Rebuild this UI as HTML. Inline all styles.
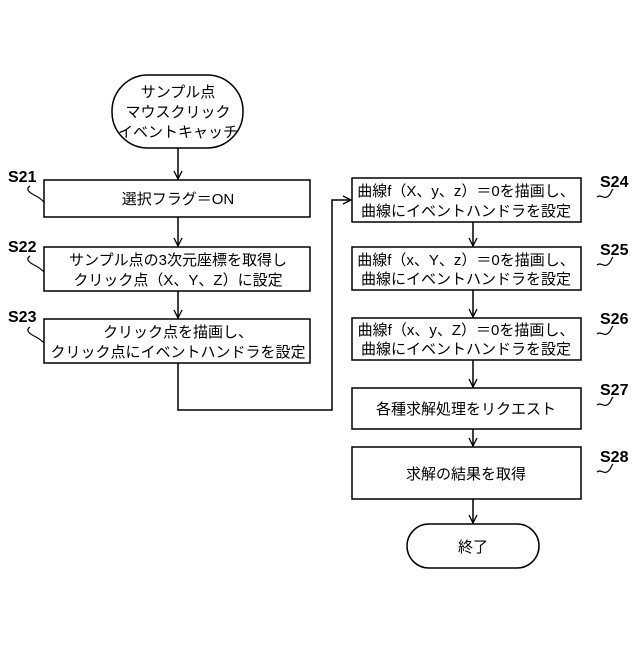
<!DOCTYPE html>
<html><head><meta charset="utf-8"><style>
body{margin:0;background:#fff}
svg text{font-family:"Liberation Sans","Noto Sans CJK JP",sans-serif;font-size:15px;fill:#000}
</style></head><body>
<svg width="640" height="640" viewBox="0 0 640 640" xmlns="http://www.w3.org/2000/svg">
<defs><marker id="a" markerWidth="10" markerHeight="10" refX="9" refY="5" orient="auto" markerUnits="userSpaceOnUse"><path d="M1,1 L9,5 L1,9" fill="none" stroke="#000" stroke-width="1.3"/></marker></defs>
<g fill="none" stroke="#000" stroke-width="1.5">
<rect x="112" y="75" width="131" height="73" rx="36"/>
<rect x="44" y="180" width="266" height="37"/>
<rect x="44" y="247" width="266" height="44"/>
<rect x="44" y="319" width="266" height="44"/>
<rect x="352" y="178" width="229" height="44"/>
<rect x="352" y="247" width="229" height="43"/>
<rect x="352" y="318" width="229" height="42"/>
<rect x="352" y="388" width="229" height="41"/>
<rect x="352" y="447" width="229" height="52"/>
<rect x="407" y="524" width="132" height="44" rx="22"/>
<path d="M178,148V179" marker-end="url(#a)"/>
<path d="M178,217V246" marker-end="url(#a)"/>
<path d="M178,291V318" marker-end="url(#a)"/>
<path d="M178,363V410H332V200H351" marker-end="url(#a)"/>
<path d="M473,222V246" marker-end="url(#a)"/>
<path d="M473,290V317" marker-end="url(#a)"/>
<path d="M473,360V387" marker-end="url(#a)"/>
<path d="M473,429V446" marker-end="url(#a)"/>
<path d="M473,499V523" marker-end="url(#a)"/>
<path d="M30,186c-6,4 2,8 6,10s6,4 8,6" stroke-width="1.2"/>
<path d="M30,256c-6,4 2,8 6,10s6,4 8,6" stroke-width="1.2"/>
<path d="M30,327c-6,4 2,8 6,10s6,4 8,6" stroke-width="1.2"/>
<path d="M597,197c4,-3 6,2 10,0s4,-6 6,-8" stroke-width="1.2"/>
<path d="M597,265c4,-3 6,2 10,0s4,-6 6,-8" stroke-width="1.2"/>
<path d="M597,334c4,-3 6,2 10,0s4,-6 6,-8" stroke-width="1.2"/>
<path d="M597,405c4,-3 6,2 10,0s4,-6 6,-8" stroke-width="1.2"/>
<path d="M597,472c4,-3 6,2 10,0s4,-6 6,-8" stroke-width="1.2"/>
</g>
<g text-anchor="middle">
<text x="178" y="97">サンプル点</text>
<text x="178" y="117">マウスクリック</text>
<text x="178" y="137">イベントキャッチ</text>
<text x="178" y="204">選択フラグ＝ON</text>
<text x="178" y="265">サンプル点の3次元座標を取得し</text>
<text x="178" y="285">クリック点（X、Y、Z）に設定</text>
<text x="178" y="337">クリック点を描画し、</text>
<text x="178" y="357">クリック点にイベントハンドラを設定</text>
<text x="466" y="196">曲線f（X、y、z）＝0を描画し、</text>
<text x="466" y="216">曲線にイベントハンドラを設定</text>
<text x="466" y="265">曲線f（x、Y、z）＝0を描画し、</text>
<text x="466" y="284">曲線にイベントハンドラを設定</text>
<text x="466" y="335">曲線f（x、y、Z）＝0を描画し、</text>
<text x="466" y="354">曲線にイベントハンドラを設定</text>
<text x="466" y="414">各種求解処理をリクエスト</text>
<text x="466" y="479">求解の結果を取得</text>
<text x="473" y="552">終了</text>
</g>
<g font-weight="bold" style="font-size:16px">
<text x="8" y="182" style="font-size:16px">S21</text>
<text x="8" y="252" style="font-size:16px">S22</text>
<text x="8" y="322" style="font-size:16px">S23</text>
<text x="600" y="187" style="font-size:16px">S24</text>
<text x="600" y="255" style="font-size:16px">S25</text>
<text x="600" y="324" style="font-size:16px">S26</text>
<text x="600" y="395" style="font-size:16px">S27</text>
<text x="600" y="462" style="font-size:16px">S28</text>
</g>
</svg>
</body></html>
